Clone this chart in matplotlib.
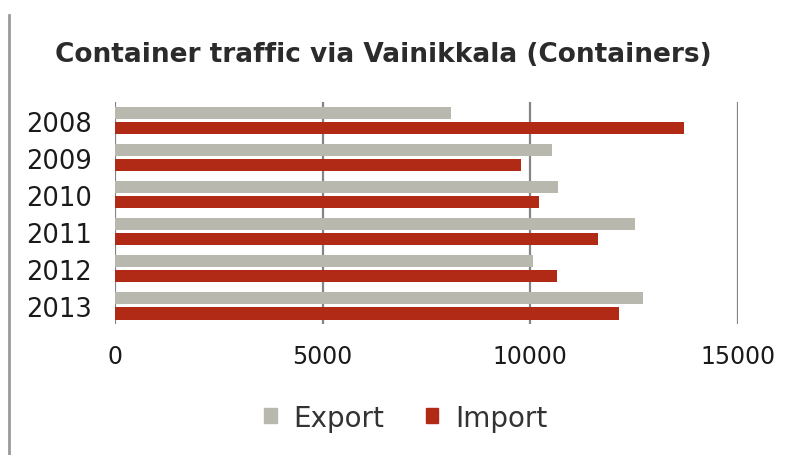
import matplotlib
matplotlib.use('Agg')
import matplotlib.pyplot as plt
from matplotlib.lines import Line2D
from matplotlib.patches import Patch
import numpy as np

years = ['2008', '2009', '2010', '2011', '2012', '2013']
export = [8080, 10520, 10670, 12510, 10070, 12710]
imports = [13710, 9780, 10220, 11620, 10640, 12140]

grey = '#B8B8AF'
red = '#B02A16'

fig = plt.figure(figsize=(8, 4.56), dpi=100)
ax = fig.add_axes([0.14375, 0.287, 0.77875, 0.487])

y = np.arange(len(years))
h = 0.33
ax.barh(y - 0.2, export, height=h, color=grey, label='Export')
ax.barh(y + 0.21, imports, height=h, color=red, label='Import')

ax.set_xlim(0, 15000)
ax.set_ylim(len(years) - 0.5, -0.5)
ax.set_xticks([0, 5000, 10000, 15000])
ax.set_yticks(y)
ax.set_yticklabels(years)
ax.tick_params(axis='both', length=0, labelsize=17, colors='#1a1a1a')
ax.tick_params(axis='x', pad=14)
ax.tick_params(axis='y', pad=16.5, labelsize=18.5)
ax.xaxis.grid(True, color='#858585', linewidth=1.6)
ax.set_axisbelow(True)
for s in ax.spines.values():
    s.set_visible(False)

fig.text(0.069, 0.88, 'Container traffic via Vainikkala (Containers)',
         fontsize=19, fontweight='bold', color='#2b2b2b', va='center')

# border line at the left edge
fig.add_artist(Line2D([0.011, 0.011], [0, 0.965], color='#9a9a9a', linewidth=2,
                      transform=fig.transFigure))

handles = [Patch(color=grey), Patch(color=red)]
fig.legend(handles, ['Export', 'Import'], loc='center', bbox_to_anchor=(0.507, 0.082),
           ncol=2, frameon=False, fontsize=20, handlelength=0.45, handleheight=0.45,
           handletextpad=0.6, columnspacing=1.5, labelcolor='#333333')

fig.savefig('out.png', dpi=100)
